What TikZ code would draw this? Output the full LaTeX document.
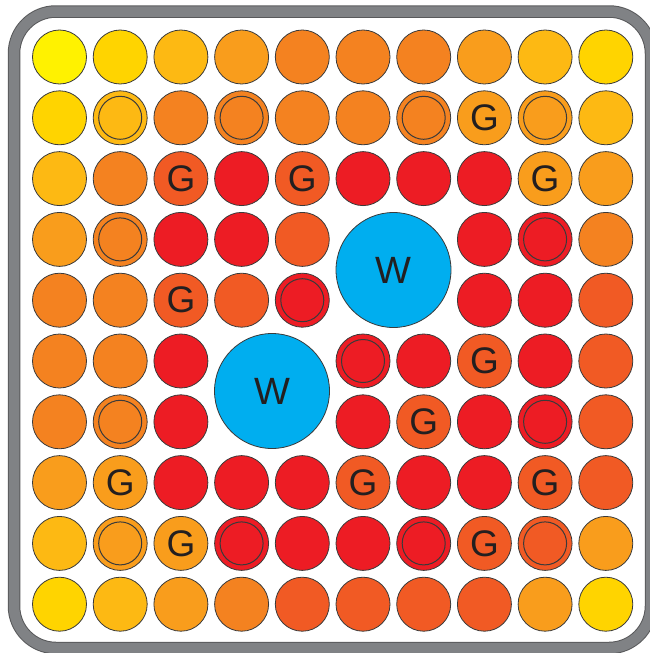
\documentclass[tikz,border=0pt]{standalone}
\usepackage{fontspec}
\setmainfont{Liberation Sans}
\definecolor{Y1}{HTML}{FFF200}
\definecolor{Y2}{HTML}{FFD400}
\definecolor{Y3}{HTML}{FDB913}
\definecolor{O1}{HTML}{F99D1C}
\definecolor{O2}{HTML}{F48220}
\definecolor{O3}{HTML}{F15A24}
\definecolor{R}{HTML}{ED1C24}
\definecolor{WB}{HTML}{00AEEF}
\definecolor{edge}{HTML}{3A3A3A}
\definecolor{txt}{HTML}{231F20}
\definecolor{framedark}{HTML}{58595B}
\definecolor{framegray}{HTML}{808285}
\def\Tn{}\def\Tg{G}\def\Tr{}
\tikzset{
  cell/.style={circle, draw=edge, line width=0.8pt, minimum size=54pt, inner sep=0pt,
    text=txt, font=\fontsize{37}{37}\selectfont},
  kind-n/.style={},
  kind-g/.style={},
  kind-r/.style={path picture={\draw[edge, line width=1pt] (path picture bounding box.center) circle (21.5pt);}},
  wcell/.style={circle, draw=edge, line width=0.8pt, fill=WB, minimum size=115pt, inner sep=0pt,
    text=txt, font=\fontsize{38}{38}\selectfont},
}
\begin{document}
\begin{tikzpicture}[x=1pt, y=-1pt]
\useasboundingbox (0,0) rectangle (649,653);
\fill[white] (14,11.5) rectangle (651,648);
\draw[framedark, line width=12.5pt, rounded corners=42pt] (14,11.5) rectangle (651,648);
\draw[framegray, line width=10.5pt, rounded corners=42pt] (14,11.5) rectangle (651,648);
\foreach \j/\row in {
 0/{0/Y1/n,1/Y2/n,2/Y3/n,3/O1/n,4/O2/n,5/O2/n,6/O2/n,7/O1/n,8/Y3/n,9/Y2/n},
 1/{0/Y2/n,1/Y3/r,2/O2/n,3/O2/r,4/O2/n,5/O2/n,6/O2/r,7/O1/g,8/O1/r,9/Y3/n},
 2/{0/Y3/n,1/O2/n,2/O3/g,3/R/n,4/O3/g,5/R/n,6/R/n,7/R/n,8/O1/g,9/O1/n},
 3/{0/O1/n,1/O2/r,2/R/n,3/R/n,4/O3/n,7/R/n,8/R/r,9/O2/n},
 4/{0/O2/n,1/O2/n,2/O3/g,3/O3/n,4/R/r,7/R/n,8/R/n,9/O3/n},
 5/{0/O2/n,1/O2/n,2/R/n,5/R/r,6/R/n,7/O3/g,8/R/n,9/O3/n},
 6/{0/O2/n,1/O2/r,2/R/n,5/R/n,6/O3/g,7/R/n,8/R/r,9/O3/n},
 7/{0/O1/n,1/O1/g,2/R/n,3/R/n,4/R/n,5/O3/g,6/R/n,7/R/n,8/O3/g,9/O3/n},
 8/{0/Y3/n,1/O1/r,2/O1/g,3/R/r,4/R/n,5/R/n,6/R/r,7/O3/g,8/O3/r,9/O1/n},
 9/{0/Y2/n,1/Y3/n,2/O1/n,3/O2/n,4/O3/n,5/O3/n,6/O3/n,7/O3/n,8/O1/n,9/Y2/n}}
{
  \foreach \i/\c/\k in \row {
    \node[cell, fill=\c, kind-\k] (c-\i-\j) at ({59.5+60.7*\i},{57+60.8*\j}) {\csname T\k\endcsname};
  }
}
\node[wcell] (w1) at (393.5,270) {W};
\node[wcell] (w2) at (272,391) {W};
\end{tikzpicture}
\end{document}
